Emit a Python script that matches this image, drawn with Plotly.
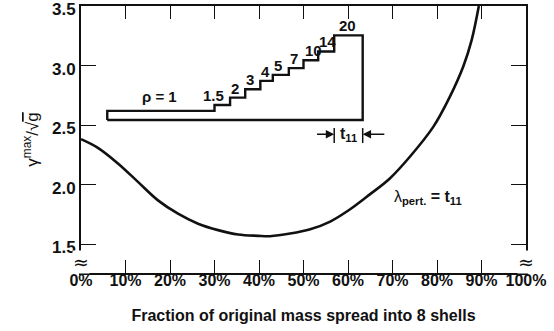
import plotly.graph_objects as go

# ---- main curve: gamma_max / sqrt(g) vs fraction of mass spread (%) ----
frac_pct = [0, 3.8, 8.3, 12.8, 17.3, 21.8, 26.3, 30.8, 35.3, 39.8, 42.5, 47.0,
            51.5, 56.0, 60.4, 64.9, 69.4, 73.9, 79.2, 82.9, 85.9, 87.8, 89.4]
gamma_norm = [2.382, 2.309, 2.178, 2.023, 1.868, 1.756, 1.672, 1.618, 1.581, 1.570, 1.567, 1.589,
              1.625, 1.690, 1.791, 1.918, 2.052, 2.234, 2.487, 2.739, 2.992, 3.216, 3.500]

# ---- inset: density staircase of the shells ----
shell_edges = [5.9, 30.0, 33.5, 36.9, 40.3, 43.1, 46.7, 50.0, 53.3, 56.9, 63.3]
shell_tops = [2.619, 2.669, 2.731, 2.801, 2.871, 2.922, 2.978, 3.045, 3.118, 3.253]
shell_base = 2.543
rho_labels = ["ρ = 1", "1.5", "2", "3", "4", "5", "7", "10", "14", "20"]

# t11 dimension marker
t11_level = 2.423
t11_bar = [2.349, 2.475]
t11_arrow_tails = [52.7, 68.5]

x_ticks = list(range(0, 101, 10))
x_ticktext = [f"{v}%" for v in x_ticks]
y_ticks = [1.5, 2.0, 2.5, 3.0, 3.5]
y_ticktext = ["1.5", "2.0", "2.5", "3.0", "3.5"]
y_range = [1.258, 3.5]
break_level = 1.348

FONT = "Liberation Sans, Arial, sans-serif"
BLACK = "#111111"

fig = go.Figure()

fig.add_trace(go.Scatter(x=frac_pct, y=gamma_norm, mode="lines",
                         line=dict(color=BLACK, width=2.6, shape="spline", smoothing=1.0),
                         hoverinfo="skip", showlegend=False))

# staircase outline
sx = [shell_edges[0]]
sy = [shell_base]
for i in range(len(shell_tops)):
    sx += [shell_edges[i], shell_edges[i + 1]]
    sy += [shell_tops[i], shell_tops[i]]
sx += [shell_edges[-1], shell_edges[0]]
sy += [shell_base, shell_base]
fig.add_trace(go.Scatter(x=sx, y=sy, mode="lines",
                         line=dict(color=BLACK, width=2.4), hoverinfo="skip", showlegend=False))

annotations = []
for i, lab in enumerate(rho_labels):
    if i == 0:
        x = (shell_edges[0] + shell_edges[1]) / 2
        xa = "center"
        ys = 4
    elif i == 1:
        x = shell_edges[1]
        xa = "center"
        ys = -1
    elif i == len(rho_labels) - 1:
        x = (shell_edges[i] + shell_edges[i + 1]) / 2
        xa = "center"
        ys = -1
    else:
        x = shell_edges[i]
        xa = "left"
        ys = -1
    annotations.append(dict(x=x, y=shell_tops[i], xref="x", yref="y", text=f"<b>{lab}</b>",
                            showarrow=False, xanchor=xa, yanchor="bottom", yshift=ys, xshift=-1,
                            font=dict(family=FONT, size=15, color=BLACK)))

# t11 marker
for bx in shell_edges[-2:]:
    fig.add_shape(type="line", x0=bx, x1=bx, y0=t11_bar[0], y1=t11_bar[1], xref="x", yref="y",
                  line=dict(color=BLACK, width=1.5))
for tail, head in zip(t11_arrow_tails, shell_edges[-2:]):
    annotations.append(dict(x=head, y=t11_level, ax=tail, ay=t11_level, xref="x", yref="y",
                            axref="x", ayref="y", text="", showarrow=True, arrowhead=2,
                            arrowsize=1.2, arrowwidth=1.4, arrowcolor=BLACK, standoff=0))
annotations.append(dict(x=(shell_edges[-2] + shell_edges[-1]) / 2, y=t11_level, xref="x", yref="y",
                        text="<b>t<sub>11</sub></b>", showarrow=False,
                        font=dict(family=FONT, size=16, color=BLACK)))

# lambda label
annotations.append(dict(x=77.9, y=1.895, xref="x", yref="y",
                        text="λ<sub><b>pert.</b></sub><b> = t<sub>11</sub></b>", showarrow=False,
                        font=dict(family=FONT, size=16, color=BLACK)))

# axis break marks
for bx in [0, 100]:
    annotations.append(dict(x=bx, y=break_level, xref="x", yref="y", text="≈", showarrow=False,
                            bgcolor="white", borderpad=0,
                            font=dict(family="DejaVu Sans", size=19, color=BLACK)))

fig.update_layout(
    width=554, height=331,
    margin=dict(l=81, r=28, t=6, b=58),
    paper_bgcolor="white", plot_bgcolor="white",
    font=dict(family=FONT, color=BLACK),
    annotations=annotations,
    xaxis=dict(range=[0, 100], tickvals=x_ticks, ticktext=x_ticktext, automargin=False,
               showline=True, linecolor=BLACK, linewidth=2, mirror="ticks",
               ticks="inside", ticklen=13, tickwidth=1.3, tickcolor=BLACK,
               showgrid=False, zeroline=False, ticklabeloverflow="allow", ticklabelstandoff=-8,
               tickfont=dict(family=FONT, size=16, color=BLACK, weight="bold"),
               title=dict(text="<b>Fraction of original mass spread into 8 shells</b>",
                          font=dict(family=FONT, size=16, color=BLACK), standoff=22)),
    yaxis=dict(range=y_range, tickvals=y_ticks, ticktext=y_ticktext, automargin=False,
               showline=True, linecolor=BLACK, linewidth=2, mirror="ticks",
               ticks="inside", ticklen=15, tickwidth=1.3, tickcolor=BLACK,
               showgrid=False, zeroline=False, ticklabeloverflow="allow", ticklabelshift=3,
               tickfont=dict(family=FONT, size=17, color=BLACK, weight="bold"),
               title=dict(text="γ<sup>max</sup>/√<span style='text-decoration:overline'>g</span>",
                          font=dict(family=FONT, size=17, color=BLACK), standoff=9)),
)

fig.write_html("out.html", config={"displayModeBar": False},
               post_script="document.body.style.margin='0';")
